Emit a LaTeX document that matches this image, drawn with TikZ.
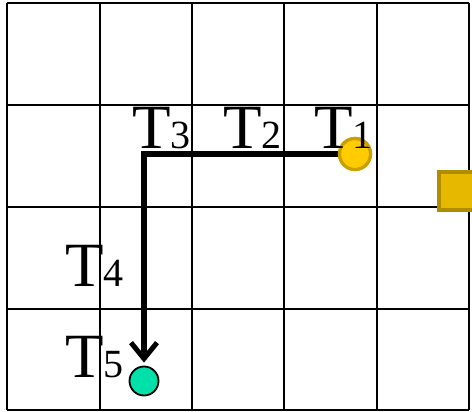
\documentclass[tikz,border=0pt]{standalone}
\usepackage{fontspec}
\setmainfont{Liberation Serif}
\usetikzlibrary{arrows.meta}
\definecolor{gold}{HTML}{FFCC00}
\definecolor{goldedge}{HTML}{C9A000}
\definecolor{boxfill}{HTML}{E6B800}
\definecolor{boxedge}{HTML}{B08C00}
\definecolor{mint}{HTML}{00E0A8}
\newcommand{\Tlab}[1]{\fontsize{63}{63}\selectfont T\fontsize{40}{40}\selectfont #1}
\begin{document}
\begin{tikzpicture}[x=1pt,y=-1pt,
  gridline/.style={line width=2.4pt, black},
  lab/.style={anchor=base west, inner sep=0pt, outer sep=0pt},
  startdot/.style={circle, minimum size=31pt, inner sep=0pt, line width=3.2pt, draw=goldedge, fill=gold},
  goaldot/.style={circle, minimum size=29pt, inner sep=0pt, line width=1.8pt, draw=black, fill=mint},
  boxnode/.style={rectangle, minimum size=38pt, inner sep=0pt, line width=3.5pt, draw=boxedge, fill=boxfill},
  route/.style={line width=5.5pt, -{Straight Barb[length=16pt, width=26pt, line width=5pt]}, shorten >=3pt}]
\useasboundingbox (0,0) rectangle (472,412);
\fill[white] (0,0) rectangle (472,412);
% grid
\foreach \x in {7,100,192,284,377,469} \draw[gridline] (\x,3) -- (\x,410);
\foreach \y in {3,105,207,309,410} \draw[gridline] (7,\y) -- (469,\y);
% nodes
\node[startdot] (start) at (355,154) {};
\node[goaldot] (goal) at (144,381) {};
\node[boxnode] (box) at (458,191) {};
% route
\draw[route] (start.west) -| (goal.north);
\node[startdot] (start2) at (start) {};
% labels
\node[lab] (l3) at (132,149) {\Tlab{3}};
\node[lab] (l2) at (223,149) {\Tlab{2}};
\node[lab] (l1) at (314,149) {\Tlab{1}};
\node[lab] (l4) at (65,286) {\Tlab{4}};
\node[lab] (l5) at (65,377) {\Tlab{5}};
\end{tikzpicture}
\end{document}
